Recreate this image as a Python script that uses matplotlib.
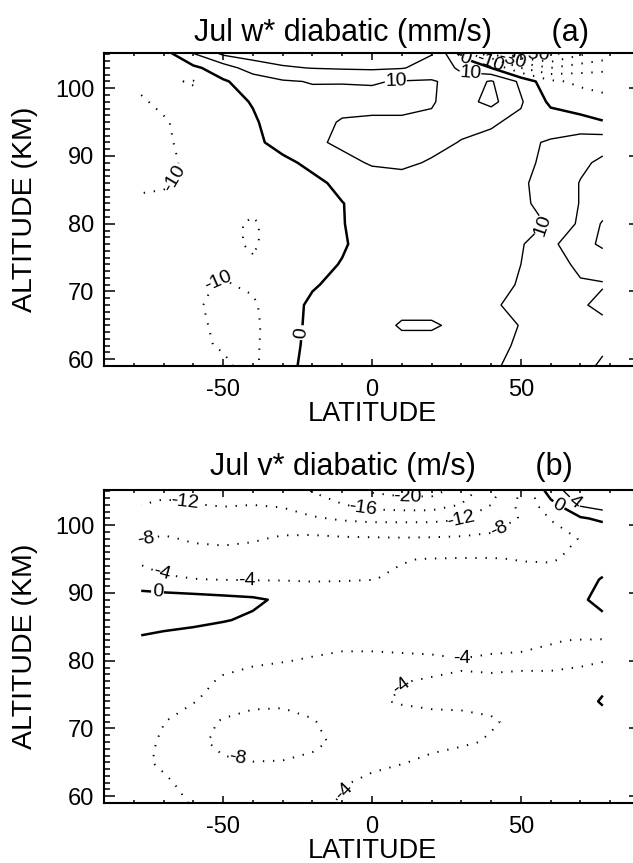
import numpy as np
import matplotlib
matplotlib.use('Agg')
import matplotlib.pyplot as plt
from matplotlib.ticker import MultipleLocator, FixedLocator

plt.rcParams['font.family'] = ['Liberation Sans', 'DejaVu Sans']
plt.rcParams['axes.unicode_minus'] = False

# grid (latitude in deg, altitude in km)
lat = [-77.5, -70, -60, -50, -40, -30, -20, -10, 0, 10, 20, 30, 40, 50, 60, 70, 77.5]
alt = [59, 62, 65, 68, 71, 74, 77, 80, 83, 86, 89, 92, 95, 98, 101, 103, 105.5]

# (a) w* diabatic, mm/s  (rows = altitude, cols = latitude)
w_star = [
    [-6, -7, -8, -9, -12, -2, 2, 4, 5, 6, 6, 7, 9, 12, 15, 18, 21],
    [-6, -8, -9, -10.5, -12, -3, 2, 4, 5, 7, 7, 7, 8, 11, 14, 18, 19],
    [-7, -8, -9, -11, -12, -4, 2, 4, 6, 11, 11, 8, 8, 10.2, 14, 17, 18],
    [-7, -8, -9.5, -11, -11, -5, 2, 4, 6, 7, 7, 8, 9.5, 11, 14, 19, 22],
    [-6, -7, -9, -10.5, -9, -6, -1, 3, 5, 6, 6, 7, 8, 10.5, 14, 19, 19.5],
    [-6, -7, -8, -9, -9.5, -7, -3, 0.5, 4, 5, 5, 6, 7, 10, 16, 22, 23],
    [-6, -7, -8, -9, -10.5, -8, -4, -1, 4, 5, 5, 6, 7, 9, 18, 26, 32],
    [-7, -8, -8, -9, -10.5, -8, -4, -0.3, 3, 4, 4, 5, 6, 8, 10.5, 22, 31],
    [-9, -9, -9, -9, -9, -7, -4, -0.2, 3, 4, 4, 5, 6, 9, 12, 20.5, 25],
    [-11, -10.5, -9, -8, -7, -5, -2, 2, 5, 6, 6, 6, 7, 9.3, 12, 20.5, 24],
    [-12, -11, -9, -7, -5, -2, 2, 7, 11, 12, 9, 7, 7, 8, 12, 18, 22],
    [-12, -11, -8, -6, -2, 3, 8, 12, 14, 14, 13, 9.5, 8, 8, 11, 15, 16],
    [-11, -10.5, -8, -5, -1, 4, 8, 10.5, 11, 11, 12, 13, 11, 8, 5, 3, 0.5],
    [-10.5, -9, -8, -3, 0.5, 6, 7, 8, 8, 8, 9, 16, 23, 11, -2, -5, -6],
    [-9, -9, -10.5, -1, 4, 9, 10.5, 10.3, 10.5, 9.5, 9, 14, 21, 8, -8, -12, -15],
    [-8, -8, -2, 5, 15, 19, 20.3, 21, 21.5, 20.5, 17, 8, 0, -20, -30, -25, -22],
    [-6, -2, 12, 25, 26, 26, 26, 26, 26, 24, 21, -5, -35, -55, -58, -45, -40],
]

# (b) v* diabatic, m/s
v_star = [
    [-2, -3, -4.2, -5, -6, -6, -4.5, -3.8, -3, -3, -3, -3.5, -3, -2.5, -2, -1.5, -1],
    [-2.5, -3.5, -5, -6.5, -7, -7, -6, -4.2, -3.5, -3, -3, -3.5, -3, -2.5, -2, -1.5, -1],
    [-3.5, -4.5, -6.5, -7.5, -7.9, -7.8, -7, -5.5, -4.5, -4.1, -3.6, -3, -2.5, -2, -1.5, -1, -0.5],
    [-3, -4.5, -7, -9, -10.5, -10, -9, -7, -6, -5, -4.5, -4.3, -3.8, -3, -2, -1.5, -1],
    [-2.5, -3.9, -6, -8.5, -9.5, -9, -8.3, -6, -5.5, -5, -4.8, -4.5, -4.2, -3.5, -2.5, -2, -1.5],
    [-2, -2.8, -3.8, -5.5, -7, -7.5, -6.5, -5, -4.3, -3.8, -3.5, -3.6, -3.5, -3.2, -2.5, -1.5, 0.4],
    [-2, -2.5, -3.2, -4.3, -5, -5.2, -5, -4.5, -4.2, -4.05, -3.9, -3.9, -3.8, -3.7, -3.6, -3.3, -1],
    [-1.5, -2, -2.8, -3.3, -3.6, -3.9, -4.2, -4.6, -4.6, -4.5, -4.4, -4.1, -4.3, -4.3, -4.4, -4.3, -4.2],
    [-0.5, -1, -1.5, -2, -2.5, -3, -3.2, -3.3, -3.3, -3.2, -3.1, -3.2, -3.4, -3.6, -3.9, -4.1, -4.2],
    [1.5, 1.2, 0.8, 0.2, -0.5, -1.2, -1.8, -2, -2.2, -2.2, -2.2, -2.3, -2.5, -2.6, -2.5, -1.5, -0.7],
    [2.2, 2, 1.6, 1.1, 0.6, -0.6, -1.5, -1.8, -2, -2, -2.2, -2.5, -2.6, -2.5, -2, -0.5, 1],
    [-2.8, -3.5, -3.9, -4.1, -4.2, -4.2, -4.3, -4.2, -4.05, -3.7, -3.4, -3.2, -3.1, -3.2, -3.0, -1.5, 0.3],
    [-4.5, -5.5, -6.5, -6.8, -6.5, -6, -6, -6, -5.2, -4.1, -3.9, -3.8, -3.8, -4.1, -4.2, -3.5, -2],
    [-8.2, -7.6, -8.4, -8.6, -8.3, -7.6, -7.2, -7.5, -7.6, -7.7, -7.6, -7.4, -7.2, -7, -6, -3.8, -3.6],
    [-10, -10, -10.5, -10, -9.5, -10, -11.5, -12.5, -13, -13, -13, -12.3, -10, -7.8, -3.8, -0.5, 0.8],
    [-12, -11.5, -11.8, -12.3, -12, -12.5, -14.5, -15.8, -17.5, -18, -18, -15.8, -12, -7, -1.5, 4.5, 6],
    [-13.5, -13, -13.5, -14, -13.5, -14, -16.5, -19, -21, -22, -22, -19, -14, -8, 3, 6, 6.5],
]

levels_w = [-50, -40, -30, -20, -10, 0, 10, 20, 30]
levels_v = [-24, -20, -16, -12, -8, -4, 0, 4, 8]
labelled_w = [-50, -30, -10, 0, 10, 20, 30]

# where the contour labels sit
lab_w_neg = [(-62, 86), (-50, 70), (40, 104.3), (47, 104.3), (55, 104.4)]
lab_w_zero = [(-25, 64), (31, 104)]
lab_w_pos = [(8, 101), (33, 102), (57, 80)]
lab_v_neg = [(-76, 99), (-63, 103), (-71, 92.5), (-42, 91.8), (-3, 102.5),
             (12, 104.5), (30, 100.8), (43, 99), (30, 80.5), (8, 77),
             (-45, 66), (-10, 61)]
lab_v_zero = [(-72, 90.5), (63, 103.3)]
lab_v_pos = [(67, 102.8)]

DOT = [(0, (0.7, 4.5))]


def style_axes(ax):
    ax.set_xlim(-90, 90)
    ax.set_ylim(59, 105.2)
    ax.xaxis.set_major_locator(FixedLocator([-50, 0, 50]))
    ax.xaxis.set_minor_locator(MultipleLocator(10))
    ax.yaxis.set_major_locator(MultipleLocator(10))
    ax.yaxis.set_minor_locator(MultipleLocator(1))
    ax.tick_params(which='both', direction='in', top=True, right=True, width=1.1, labelsize=17)
    ax.tick_params(axis='x', which='major', length=5, pad=9)
    ax.tick_params(axis='x', which='minor', length=2.5)
    ax.tick_params(axis='y', which='major', length=8, pad=7)
    ax.tick_params(axis='y', which='minor', length=4.3)
    for sp in ax.spines.values():
        sp.set_linewidth(1.5)
    ax.set_xlabel('LATITUDE', fontsize=19.5)
    ax.set_ylabel('ALTITUDE (KM)', fontsize=20.5)
    ax.xaxis.set_label_coords(0.5, -0.152)
    ax.yaxis.set_label_coords(-0.148, 0.5)
    ax.xaxis.label.set_va('center')
    ax.yaxis.label.set_va('center')


def draw_panel(ax, field, levels, lab_neg, lab_zero, lab_pos, labelled=None):
    z = np.array(field)
    if labelled is None:
        labelled = levels
    neg = [l for l in levels if l < 0 and l in labelled]
    neg_plain = [l for l in levels if l < 0 and l not in labelled]
    pos = [l for l in levels if l > 0]
    if neg_plain:
        ax.contour(lat, alt, z, levels=neg_plain, colors='black',
                   linewidths=1.4, linestyles=DOT)
    cn = ax.contour(lat, alt, z, levels=neg, colors='black',
                    linewidths=1.4, linestyles=DOT)
    c0 = ax.contour(lat, alt, z, levels=[0], colors='black',
                    linewidths=1.8, linestyles='solid')
    cp = ax.contour(lat, alt, z, levels=pos, colors='black',
                    linewidths=1.0, linestyles='solid')
    for cs, pts in ((cn, lab_neg), (c0, lab_zero), (cp, lab_pos)):
        if pts:
            cs.clabel(fmt='%d', fontsize=14, inline=True,
                      inline_spacing=2, manual=pts)
    style_axes(ax)


fig = plt.figure(figsize=(6.33, 8.63), dpi=100)
ax1 = fig.add_axes([104 / 633, 1 - 366 / 863, 536 / 633, 313 / 863])
ax2 = fig.add_axes([104 / 633, 1 - 803 / 863, 536 / 633, 313 / 863])

draw_panel(ax1, w_star, levels_w, lab_w_neg, lab_w_zero, lab_w_pos, labelled_w)
draw_panel(ax2, v_star, levels_v, lab_v_neg, lab_v_zero, lab_v_pos)

fig.text(391 / 633, 1 - 33 / 863, 'Jul w* diabatic (mm/s)       (a)',
         ha='center', va='center', fontsize=22)
fig.text(391 / 633, 1 - 467 / 863, 'Jul v* diabatic (m/s)       (b)',
         ha='center', va='center', fontsize=22)

fig.savefig('out.png', dpi=100)
